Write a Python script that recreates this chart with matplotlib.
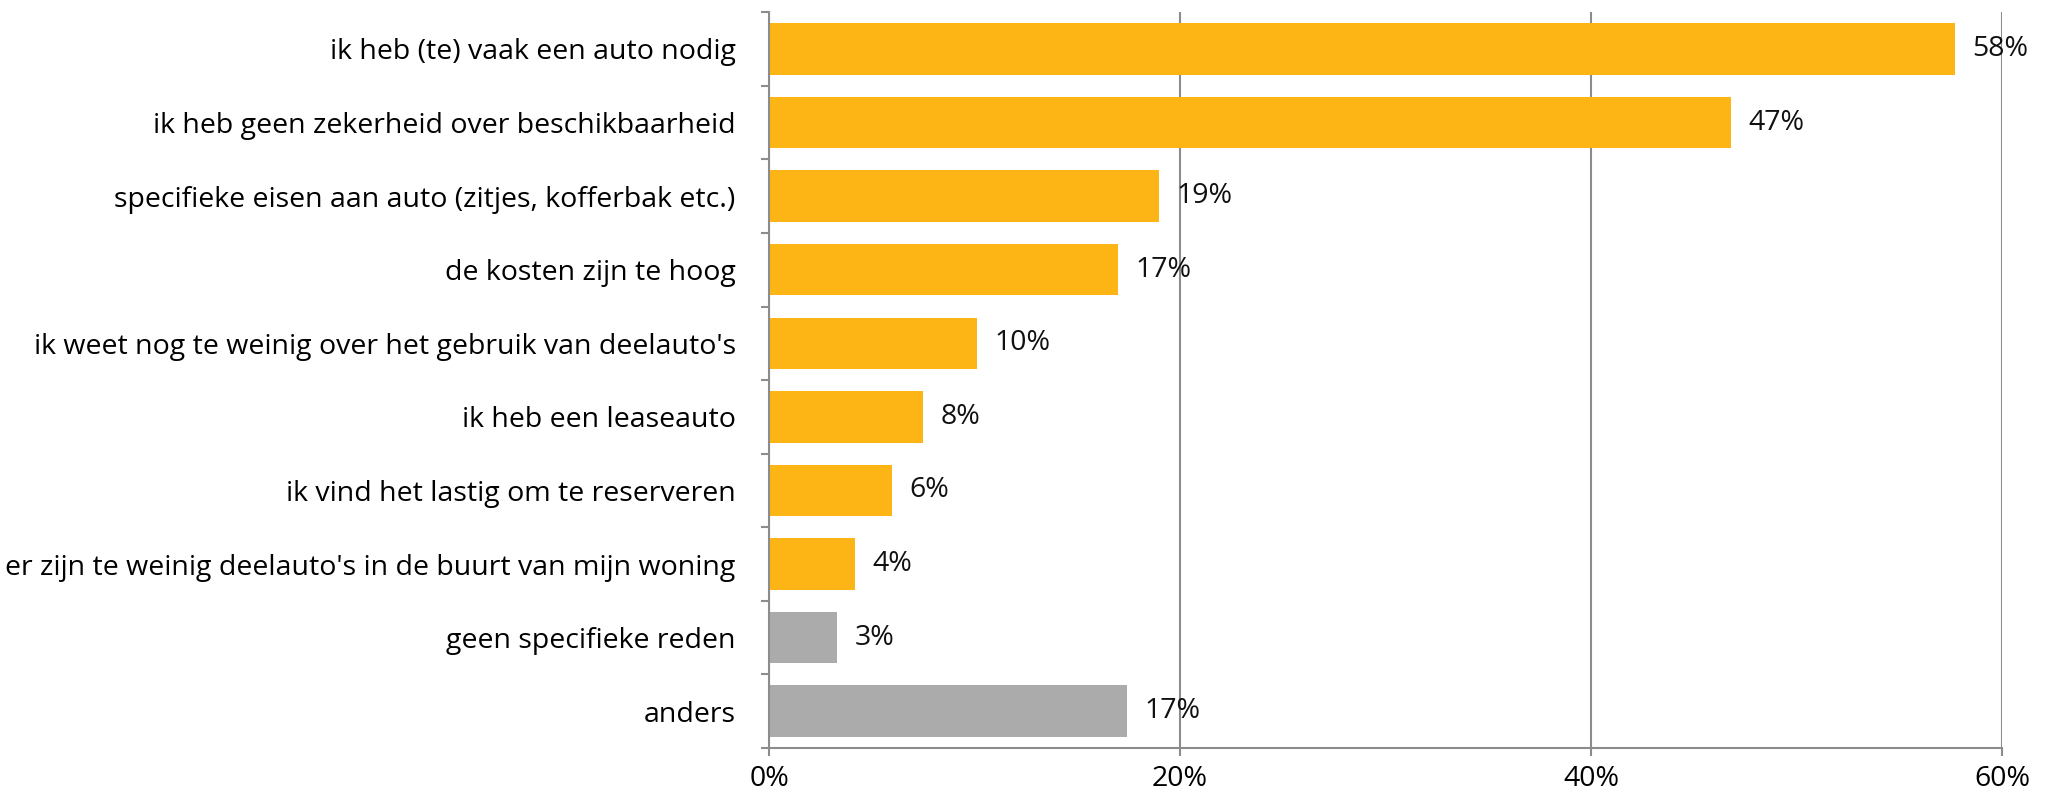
import matplotlib.pyplot as plt
import numpy as np

plt.rcParams['font.family'] = ['Open Sans', 'DejaVu Sans']

reasons = [
    "ik heb (te) vaak een auto nodig",
    "ik heb geen zekerheid over beschikbaarheid",
    "specifieke eisen aan auto (zitjes, kofferbak etc.)",
    "de kosten zijn te hoog",
    "ik weet nog te weinig over het gebruik van deelauto's",
    "ik heb een leaseauto",
    "ik vind het lastig om te reserveren",
    "er zijn te weinig deelauto's in de buurt van mijn woning",
    "geen specifieke reden",
    "anders",
]
values = [57.7, 46.8, 19.0, 17.0, 10.1, 7.5, 6.0, 4.2, 3.3, 17.4]
value_labels = ["58%", "47%", "19%", "17%", "10%", "8%", "6%", "4%", "3%", "17%"]
is_grey = [False] * 8 + [True, True]

orange = "#FDB515"
grey = "#ABABAB"
axis_grey = "#8C8C8C"

fig = plt.figure(figsize=(20.48, 7.92), dpi=100)
ax = fig.add_axes([0.3755, 0.0556, 0.602, 0.929])

y = np.arange(len(reasons))
colors = [grey if g else orange for g in is_grey]
ax.barh(y, values, height=0.7, color=colors, zorder=2)

for yi, v, lab in zip(y, values, value_labels):
    ax.text(v + 0.85, yi, lab, va='center', ha='left', fontsize=20.5, color='#111111', zorder=3)

ax.set_ylim(len(reasons) - 0.5, -0.5)
ax.set_xlim(0, 60)
ax.set_xticks([0, 20, 40, 60])
ax.set_xticklabels(["0%", "20%", "40%", "60%"], fontsize=20.5)
ax.set_yticks(y)
ax.set_yticklabels(reasons, fontsize=20.5)
ax.set_yticks(np.arange(len(reasons) + 1) - 0.5, minor=True)
ax.tick_params(axis='y', which='major', length=0, pad=24)
ax.tick_params(axis='y', which='minor', length=6, color=axis_grey, width=1.5)
ax.tick_params(axis='x', length=6, color=axis_grey, width=1.5, pad=6)

ax.grid(axis='x', color=axis_grey, linewidth=1.5, zorder=1)
for s in ['top', 'right']:
    ax.spines[s].set_visible(False)
for s in ['left', 'bottom']:
    ax.spines[s].set_color(axis_grey)
    ax.spines[s].set_linewidth(1.5)

fig.savefig("out.png", dpi=100)
